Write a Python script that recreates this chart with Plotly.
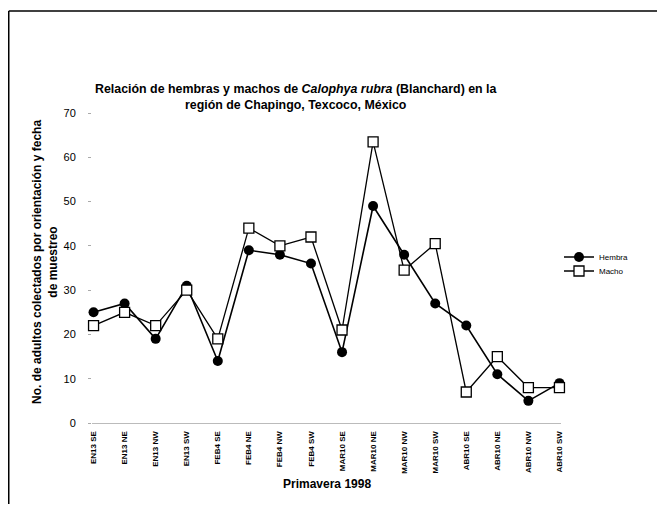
import plotly.graph_objects as go

categories = ["EN13 SE", "EN13 NE", "EN13 NW", "EN13 SW",
              "FEB4 SE", "FEB4 NE", "FEB4 NW", "FEB4 SW",
              "MAR10 SE", "MAR10 NE", "MAR10 NW", "MAR10 SW",
              "ABR10 SE", "ABR10 NE", "ABR10 NW", "ABR10 SW"]
hembra = [25, 27, 19, 31, 14, 39, 38, 36, 16, 49, 38, 27, 22, 11, 5, 9]
macho = [22, 25, 22, 30, 19, 44, 40, 42, 21, 63.5, 34.5, 40.5, 7, 15, 8, 8]
y_ticks = [0, 10, 20, 30, 40, 50, 60, 70]

FONT = "Arial, Liberation Sans, sans-serif"
OFF = 8  # page body margin
W, H = 665 - 2 * OFF, 512 - 2 * OFF
L, R, T, B = 84, 96, 105, 81
PW, PH = W - L - R, H - T - B

def px(x):
    return (x - OFF - L) / PW

def py(y):
    return (H - B - (y - OFF)) / PH

fig = go.Figure()
fig.add_trace(go.Scatter(
    x=categories, y=hembra, name="Hembra", mode="lines+markers",
    line=dict(color="black", width=1.6),
    marker=dict(symbol="circle", size=10, color="black"),
    cliponaxis=False, legend="legend"))
fig.add_trace(go.Scatter(
    x=categories, y=macho, name="Macho", mode="lines+markers",
    line=dict(color="black", width=1.3),
    marker=dict(symbol="square", size=10, color="white",
                line=dict(color="black", width=1.3)),
    cliponaxis=False, legend="legend2"))

leg_common = dict(xanchor="left", yanchor="middle",
                  font=dict(size=8, family=FONT), bgcolor="rgba(0,0,0,0)",
                  itemwidth=30)
fig.update_layout(
    width=W, height=H,
    margin=dict(l=L, r=R, t=T, b=B),
    paper_bgcolor="white", plot_bgcolor="white",
    font=dict(family=FONT, color="black"),
    showlegend=True,
    legend=dict(x=px(559), y=py(257), **leg_common),
    legend2=dict(x=px(559), y=py(271), **leg_common),
    xaxis=dict(type="category", range=[-0.05, 15.05],
               tickangle=-90,
               tickfont=dict(size=8, family=FONT, weight="bold"),
               ticklabelstandoff=4,
               showline=True, linecolor="#bbbbbb", linewidth=1,
               ticks="", showgrid=False, zeroline=False),
    yaxis=dict(range=[0, 70], tickvals=y_ticks, tickfont=dict(size=11),
               ticks="outside", ticklen=3, tickcolor="#aaaaaa",
               ticklabelstandoff=10,
               showline=False, showgrid=False, zeroline=False),
)

fig.add_annotation(
    text="<b>Relación de hembras y machos de <i>Calophya rubra</i> (Blanchard) en la<br>región de Chapingo, Texcoco, México</b>",
    xref="paper", yref="paper", x=px(296), y=py(97), xanchor="center", yanchor="middle",
    showarrow=False, font=dict(size=12.4, family=FONT), align="center")
fig.add_annotation(
    text="<b>No. de adultos colectados por orientación y fecha<br>de muestreo</b>",
    xref="paper", yref="paper", x=px(45), y=py(262), xanchor="center", yanchor="middle",
    textangle=-90, showarrow=False, font=dict(size=12, family=FONT), align="center")
fig.add_annotation(
    text="<b>Primavera 1998</b>",
    xref="paper", yref="paper", x=px(327), y=py(484), xanchor="center", yanchor="middle",
    showarrow=False, font=dict(size=12, family=FONT))

# frame
fig.add_shape(type="line", xref="paper", yref="paper",
              x0=px(8.75), x1=px(665), y0=py(11), y1=py(11),
              line=dict(color="black", width=1.5))
fig.add_shape(type="line", xref="paper", yref="paper",
              x0=px(8.75), x1=px(8.75), y0=py(11), y1=py(512),
              line=dict(color="black", width=1.5))

fig.write_html("out.html")
